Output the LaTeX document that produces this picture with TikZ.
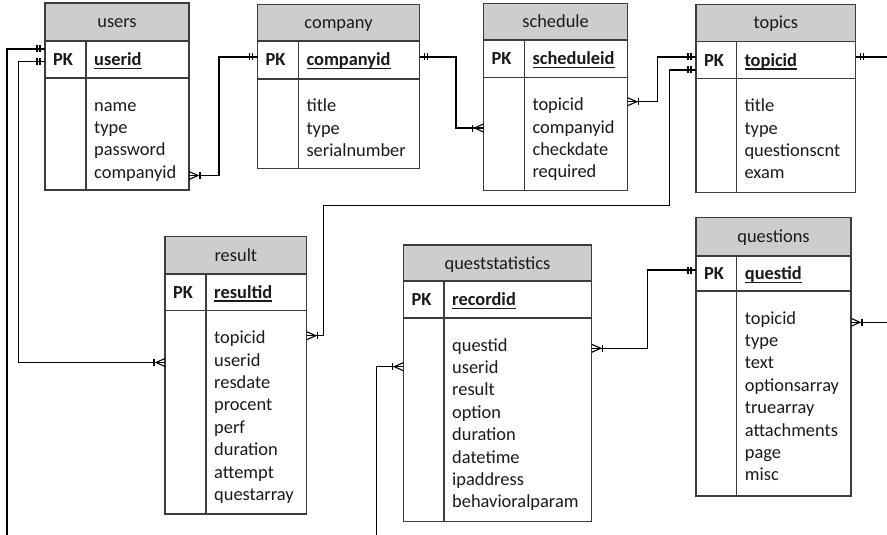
\documentclass[tikz,border=0pt]{standalone}
\usepackage{fontspec}
\setmainfont{Carlito}
\usetikzlibrary{calc}
\definecolor{hdrgray}{HTML}{CDCDCD}
\definecolor{bordc}{HTML}{3C3C3C}
\definecolor{txtc}{HTML}{1A1A1A}
\newcommand\pkul[1]{\setbox0\hbox{#1}\rlap{\rule[-3.5pt]{\wd0}{1.4pt}}\box0}
\tikzset{
  tblline/.style={draw=bordc, line width=1.3pt},
  hdrbox/.style={anchor=north west, draw=bordc, fill=hdrgray, line width=1.3pt, inner sep=0pt, outer sep=0pt},
  rowbox/.style={anchor=north west, draw=bordc, fill=white, line width=1.3pt, inner sep=0pt, outer sep=0pt},
  txtbase/.style={inner sep=0pt, text=txtc, font=\fontsize{18.4}{22.4}\selectfont},
  ttl/.style={txtbase, anchor=base},
  fld/.style={txtbase, anchor=base west},
  conn/.style={draw=black, line width=1.1pt},
  crowm/.pic={\draw[conn] (0,-4)--(9,0)--(0,4); \draw[conn] (11,-3.5)--(11,3.5);},
  dbar/.pic={\draw[conn] (5,-3.5)--(5,3.5); \draw[conn] (8,-3.5)--(8,3.5);},
}
% #1 name, #2 x1, #3 x2, #4 top, #5 header bottom, #6 pk bottom, #7 bottom, #8 divider x
\newcommand\ertable[8]{%
  \node[hdrbox, minimum width={#3-#2}, minimum height={#5-#4}] (#1-h) at (#2,#4) {};
  \node[rowbox, minimum width={#3-#2}, minimum height={#6-#5}] (#1-p) at (#2,#5) {};
  \node[rowbox, minimum width={#3-#2}, minimum height={#7-#6}] (#1-b) at (#2,#6) {};
  \coordinate (#1-d) at (#8,#6);
  \draw[tblline] (#1-d |- #1-p.north) -- (#1-d |- #1-b.south);
}
% #1 name, #2 title, #3 pk field, #4 fields
\newcommand\ertext[4]{%
  \node[ttl] (#1-t) at ($(#1-h.center)+(0,6)$) {#2};
  \node[fld] (#1-k) at ($(#1-p.west)+(8,6)$) {\textbf{PK}};
  \node[fld] (#1-pk) at ($(#1-d |- #1-p.west)+(8,6)$) {\textbf{\pkul{#3}}};
  \foreach \f [count=\i from 0] in {#4} {\node[fld] (#1-f\i) at ($(#1-d)+(8,{33+22.4*\i})$) {\f};}
}
\begin{document}
\begin{tikzpicture}[x=1pt,y=-1pt]
\useasboundingbox (0,0) rectangle (887,535);

\ertable{users}{45}{189}{3}{41}{78}{190}{86}
\ertext{users}{users}{userid}{name,type,password,companyid}

\ertable{company}{257.5}{419.5}{4.3}{41}{79}{168.7}{298.3}
\ertext{company}{company}{companyid}{title,type,serialnumber}

\ertable{schedule}{483.5}{627.7}{3.3}{40}{77.7}{190.7}{524.3}
\ertext{schedule}{schedule}{scheduleid}{topicid,companyid,checkdate,required}

\ertable{topics}{696}{855.7}{4.3}{41.7}{78.7}{192.3}{736.3}
\ertext{topics}{topics}{topicid}{title,type,questionscnt,exam}

\ertable{result}{165}{306.7}{236.7}{274}{310.7}{514}{206}
\ertext{result}{result}{resultid}{topicid,userid,resdate,procent,perf,duration,attempt,questarray}

\ertable{qs}{403.3}{591.7}{245}{281}{318}{521.7}{444}
\ertext{qs}{queststatistics}{recordid}{questid,userid,result,option,duration,datetime,ipaddress,behavioralparam}

\ertable{questions}{696}{851}{217.7}{256}{291}{496}{736.7}
\ertext{questions}{questions}{questid}{topicid,type,text,optionsarray,truearray,attachments,page,misc}

% free ends
\coordinate (e1) at (7,535);
\coordinate (e2) at (887,57);
\coordinate (e3) at (887,322.3);
\coordinate (e4) at (376.7,535);

% connectors
\draw[conn] (users-p.west |- 0,49) -| (e1);
\path (users-p.west |- 0,49) pic[rotate=180]{dbar};

\draw[conn] (users-p.west |- 0,61.5) -| (18.3,362.5) -- (result-b.west |- 0,362.5);
\path (users-p.west |- 0,61.5) pic[rotate=180]{dbar};
\path (result-b.west |- 0,362.5) pic[rotate=180]{crowm};

\draw[conn] (users-b.east |- 0,175.5) -| (219,57) -- (company-p.west |- 0,57);
\path (users-b.east |- 0,175.5) pic{crowm};
\path (company-p.west |- 0,57) pic[rotate=180]{dbar};

\draw[conn] (company-p.east |- 0,57) -| (456,128) -- (schedule-b.west |- 0,128);
\path (company-p.east |- 0,57) pic{dbar};
\path (schedule-b.west |- 0,128) pic[rotate=180]{crowm};

\draw[conn] (schedule-b.east |- 0,101.7) -| (657.3,57) -- (topics-p.west |- 0,57);
\path (schedule-b.east |- 0,101.7) pic{crowm};
\path (topics-p.west |- 0,57) pic[rotate=180]{dbar};

\draw[conn] (topics-p.west |- 0,70) -| (669.3,205.7) -| (323.3,335.7) -- (result-b.east |- 0,335.7);
\path (topics-p.west |- 0,70) pic[rotate=180]{dbar};
\path (result-b.east |- 0,335.7) pic{crowm};

\draw[conn] (topics-p.east |- 0,57) -- (e2);
\path (topics-p.east |- 0,57) pic{dbar};

\draw[conn] (questions-b.east |- 0,322.3) -- (e3);
\path (questions-b.east |- 0,322.3) pic{crowm};

\draw[conn] (qs-b.west |- 0,366.7) -| (e4);
\path (qs-b.west |- 0,366.7) pic[rotate=180]{crowm};

\draw[conn] (qs-b.east |- 0,348.3) -| (647.3,270) -- (questions-p.west |- 0,270);
\path (qs-b.east |- 0,348.3) pic{crowm};
\path (questions-p.west |- 0,270) pic[rotate=180]{dbar};
\end{tikzpicture}
\end{document}
